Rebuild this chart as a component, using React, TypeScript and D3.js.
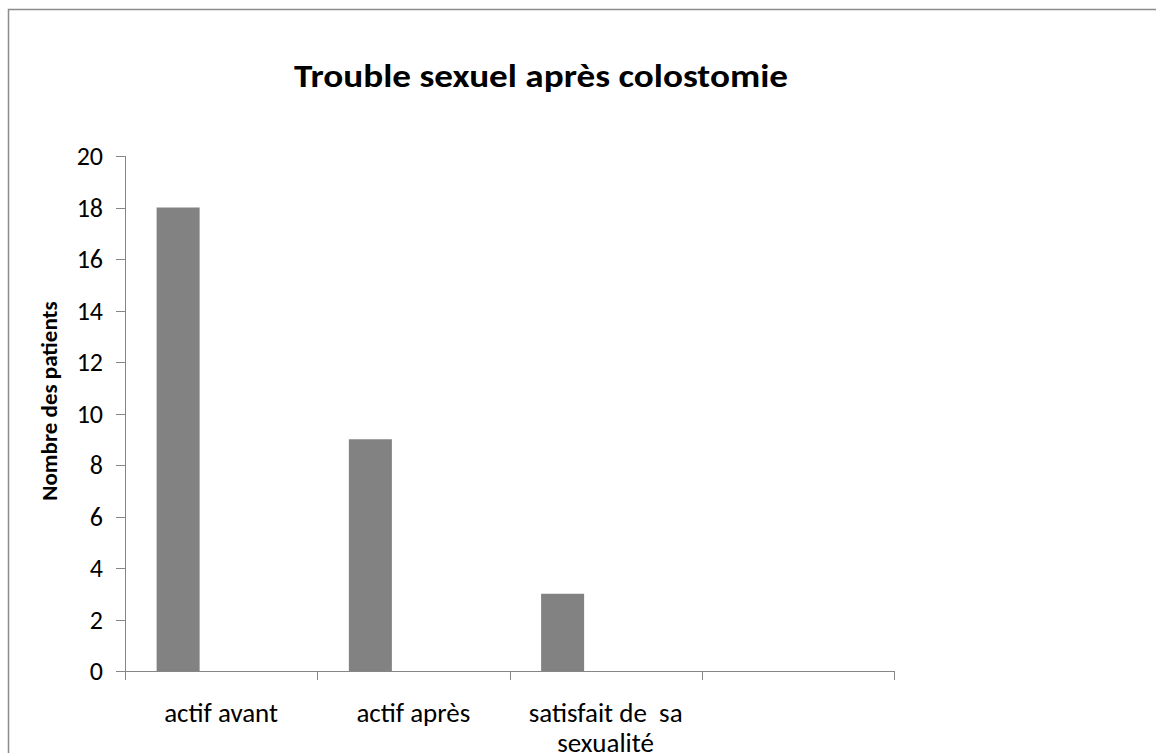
import React from "react";
import * as d3 from "d3";

const categories = ["actif avant", "actif après", "satisfait de  sa sexualité", ""];
const categoryLines = [["actif avant"], ["actif après"], ["satisfait de  sa", "sexualité"], [""]];
const seriesNames = ["s1", "s2", "s3"];
const values = [18, 9, 3, null];
const yTicks = [0, 2, 4, 6, 8, 10, 12, 14, 16, 18, 20];
const title = "Trouble sexuel après colostomie";
const yLabel = "Nombre des patients";

const W = 1156;
const H = 753;
const left = 125;
const right = 894;
const top = 156;
const bottom = 671;
const FONT = "Calibri, Carlito, Lato, 'Open Sans', sans-serif";
const axisColor = "#868686";

export default function App() {
  const x0 = d3.scaleBand<string>().domain(categories).range([left, right]).padding(0);
  const x1 = d3
    .scaleBand<string>()
    .domain(seriesNames)
    .range([0, x0.bandwidth()])
    .paddingInner(0)
    .paddingOuter(0.735);
  const y = d3.scaleLinear().domain([0, 20]).range([bottom, top]);

  const boundaries = categories.map((c) => x0(c) as number).concat([right]);

  return (
    <svg
      width={W}
      height={H}
      style={{ position: "absolute", left: 0, top: 0, background: "#fff" }}
      fontFamily={FONT}
    >
      <rect x={0} y={0} width={W} height={H} fill="#fff" />
      <rect x={8.5} y={9.5} width={1300} height={900} fill="none" stroke="#8c8c8c" strokeWidth={1.5} />
      <text x={541} y={87} textAnchor="middle" fontSize={32} fontWeight="bold" fill="#000" textLength={494} lengthAdjust="spacingAndGlyphs">
        {title}
      </text>
      {/* bars */}
      {categories.map((c, i) =>
        values[i] == null ? null : (
          <rect
            key={c + i}
            x={(x0(c) as number) + (x1("s1") as number)}
            y={y(values[i] as number)}
            width={x1.bandwidth()}
            height={bottom - y(values[i] as number)}
            fill="#828282"
          />
        )
      )}
      {/* y axis */}
      <line x1={left + 0.5} x2={left + 0.5} y1={top} y2={bottom} stroke={axisColor} strokeWidth={1} />
      {yTicks.map((t) => (
        <g key={t}>
          <line x1={116} x2={left} y1={Math.round(y(t)) + 0.5} y2={Math.round(y(t)) + 0.5} stroke={axisColor} />
          <text x={103} y={y(t)} dy="0.36em" textAnchor="end" fontSize={26} fill="#000">
            {t}
          </text>
        </g>
      ))}
      {/* x axis */}
      <line x1={left} x2={right} y1={bottom + 0.5} y2={bottom + 0.5} stroke={axisColor} />
      {boundaries.map((b, i) => (
        <line key={i} x1={Math.round(b) + 0.5} x2={Math.round(b) + 0.5} y1={bottom} y2={680} stroke={axisColor} />
      ))}
      {categories.map((c, i) => (
        <text key={"l" + i} x={(x0(c) as number) + x0.bandwidth() / 2} y={722} textAnchor="middle" fontSize={27} fill="#000">
          {categoryLines[i].map((ln, j) => (
            <tspan key={j} x={(x0(c) as number) + x0.bandwidth() / 2} dy={j === 0 ? 0 : 30} style={{ whiteSpace: "pre" }}>
              {ln}
            </tspan>
          ))}
        </text>
      ))}
      <text
        transform={`translate(57, 401) rotate(-90)`}
        textAnchor="middle"
        fontSize={23}
        fontWeight="bold"
        fill="#000"
      >
        {yLabel}
      </text>
    </svg>
  );
}
